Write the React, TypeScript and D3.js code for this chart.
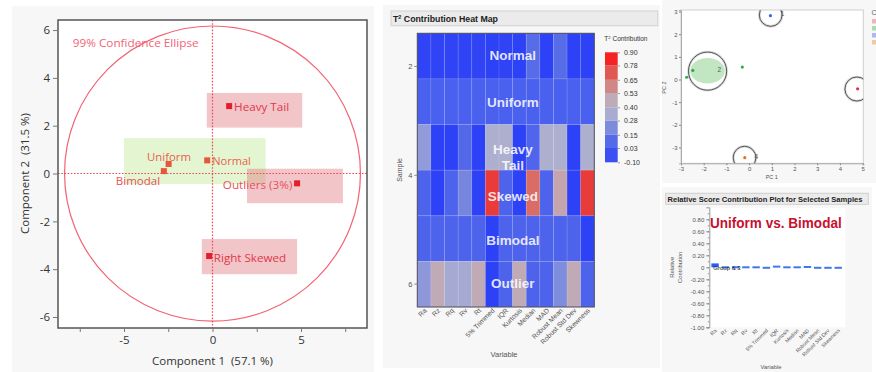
import { useEffect, useRef } from "react";
import * as d3 from "d3";

// ---------- score plot (left panel) ----------
const sampleLabels = ["Heavy Tail", "Normal", "Uniform", "Bimodal", "Outliers (3%)", "Right Skewed"];
const scoresPC1 = [0.94, -0.3, -2.48, -2.75, 4.78, -0.19];
const scoresPC2 = [2.82, 0.55, 0.4, 0.1, -0.41, -3.45];
const sampleCluster = [1, 2, 2, 2, 3, 4];

const scoreXTicks = [-7.5, -5, -2.5, 0, 2.5, 5, 7.5];
const scoreXLabels = [-5, 0, 5];
const scoreYTicks = [-6, -4, -2, 0, 2, 4, 6];

const ellipseRadiusPC1 = 8.36;
const ellipseRadiusPC2 = 6.17;

// shaded groups, in score units
const boxPC1From = [-0.32, -5.0, 1.95, -0.6];
const boxPC1To = [5.07, 3.0, 7.37, 4.78];
const boxPC2From = [1.92, -0.44, -1.24, -4.21];
const boxPC2To = [3.37, 1.48, 0.2, -2.74];
const boxKind = ["pink", "green", "pink", "pink"];

// ---------- T2 heat map (middle panel) ----------
const variables = [
  "Ra", "Rz", "Rq", "Rv", "Rt", "5% Trimmed", "IQR", "Kurtosis",
  "Median", "MAD", "Robust Mean", "Robust Std Dev", "Skewness",
];
const heatRows = ["Normal", "Uniform", "Heavy Tail", "Skewed", "Bimodal", "Outlier"];
const t2Normal = [-0.08, -0.08, -0.08, -0.08, -0.08, -0.09, -0.08, -0.09, 0.1, -0.09, 0.1, -0.09, -0.09];
const t2Uniform = [0.03, 0.03, 0.03, 0.03, 0.03, 0.03, 0.03, 0.03, 0.03, 0.03, 0.03, 0.03, 0.03];
const t2HeavyTail = [0.26, -0.09, -0.09, 0.08, -0.09, 0.36, 0.36, -0.09, 0.06, 0.36, 0.36, -0.09, 0.36];
const t2Skewed = [0.05, -0.09, 0.05, 0.2, -0.09, 0.79, 0.05, -0.09, 0.66, 0.05, 0.5, -0.09, 0.79];
const t2Bimodal = [0.05, 0.05, 0.05, 0.05, 0.05, -0.09, 0.05, 0.05, 0.05, 0.05, 0.05, 0.05, -0.09];
const t2Outlier = [0.25, 0.47, 0.33, 0.33, 0.47, -0.09, 0.05, 0.47, 0.05, 0.05, 0.22, 0.47, 0.05];
const t2Table = [t2Normal, t2Uniform, t2HeavyTail, t2Skewed, t2Bimodal, t2Outlier];

const sampleTicks = [2, 4, 6];
const legendTicks = [-0.1, 0.03, 0.15, 0.28, 0.4, 0.53, 0.65, 0.78, 0.9];
const legendColors = ["#2b3ff7", "#4a60ee", "#6074e2", "#9aa2d8", "#b6b6ca", "#c8a0a4", "#d87068", "#e84040", "#ff0808"];

// ---------- cluster plot (top right) ----------
const clusterIds = [1, 2, 3, 4];
const clusterPC1 = [0.95, -1.83, 4.75, -0.2];
const clusterPC2 = [2.85, 0.37, -0.42, -3.45];
const clusterRadius = [0.5, 0.84, 0.53, 0.5];
const pcXTicks = [-3, -2, -1, 0, 1, 2, 3, 4, 5];
const pcYTicks = [-3, -2, -1, 0, 1, 2, 3];

// ---------- relative contribution (bottom right) ----------
const contribValues = [0.065, 0.008, 0.005, 0.005, 0.01, -0.025, 0.028, 0.012, 0.006, 0.022, -0.004, -0.004, -0.02];
const contribTicks = [-1, -0.8, -0.6, -0.4, -0.2, 0, 0.2, 0.4, 0.6, 0.8];
const contribMinor = d3.range(-10, 10).map((d) => d / 10);

const SEGOE = "'Open Sans', 'Noto Sans', sans-serif";
const ARIAL = "'Liberation Sans', Arial, sans-serif";
const PANEL = "#f7f7f7";

type Sel = d3.Selection<SVGSVGElement, unknown, null, undefined>;

function drawScorePlot(svg: Sel) {
  const x = d3.scaleLinear().domain([-8.73, 8.73]).range([58, 367]);
  const y = d3.scaleLinear().domain([-6.46, 6.42]).range([328, 20]);
  const g = svg.append("g").attr("font-family", SEGOE);

  g.append("rect").attr("x", 12).attr("y", 6).attr("width", 362).attr("height", 366).attr("fill", PANEL);
  g.append("rect")
    .attr("x", x(-8.73)).attr("y", y(6.42))
    .attr("width", x(8.73) - x(-8.73)).attr("height", y(-6.46) - y(6.42))
    .attr("fill", "#fff");

  boxKind.forEach((kind, i) => {
    g.append("rect")
      .attr("x", x(boxPC1From[i]))
      .attr("y", y(boxPC2To[i]))
      .attr("width", x(boxPC1To[i]) - x(boxPC1From[i]))
      .attr("height", y(boxPC2From[i]) - y(boxPC2To[i]))
      .attr("fill", kind === "green" ? "rgb(188,232,140)" : "rgb(222,110,120)")
      .attr("fill-opacity", 0.4);
  });

  g.append("ellipse")
    .attr("cx", x(0)).attr("cy", y(0))
    .attr("rx", x(ellipseRadiusPC1) - x(0))
    .attr("ry", y(0) - y(ellipseRadiusPC2))
    .attr("fill", "none").attr("stroke", "#f26474").attr("stroke-width", 1.2);

  g.append("line")
    .attr("x1", x(0)).attr("x2", x(0)).attr("y1", y(6.42)).attr("y2", y(-6.46))
    .attr("stroke", "#ee4a5c").attr("stroke-width", 1.2).attr("stroke-dasharray", "1.6,1.6");
  g.append("line")
    .attr("x1", x(-8.73)).attr("x2", x(8.73)).attr("y1", y(0)).attr("y2", y(0))
    .attr("stroke", "#ee4a5c").attr("stroke-width", 1.2).attr("stroke-dasharray", "1.6,1.6");

  g.append("text")
    .attr("x", 72.7).attr("y", 46.5)
    .attr("font-size", 11.5).attr("fill", "#f26474")
    .attr("textLength", 126).attr("lengthAdjust", "spacingAndGlyphs")
    .text("99% Confidence Ellipse");

  const placement: Record<string, { dx: number; dy: number; anchor: string; w: number; color: string }> = {
    "Heavy Tail": { dx: 5, dy: 5, anchor: "start", w: 55, color: "#e0384a" },
    Normal: { dx: 5, dy: 4.7, anchor: "start", w: 38.7, color: "#e8604c" },
    Uniform: { dx: 0.4, dy: -3, anchor: "middle", w: 44, color: "#e8604c" },
    Bimodal: { dx: -3.7, dy: 14, anchor: "end", w: 44.3, color: "#e85060" },
    "Outliers (3%)": { dx: -4.7, dy: 5.7, anchor: "end", w: 69.6, color: "#e85060" },
    "Right Skewed": { dx: 4.7, dy: 5.7, anchor: "start", w: 72.3, color: "#e0384a" },
  };

  sampleLabels.forEach((name, i) => {
    const px = x(scoresPC1[i]);
    const py = y(scoresPC2[i]);
    g.append("rect")
      .attr("x", px - 3).attr("y", py - 3).attr("width", 6).attr("height", 6)
      .attr("fill", sampleCluster[i] === 2 ? "#e8553a" : "#e41e2a");
    const p = placement[name];
    g.append("text")
      .attr("x", px + p.dx).attr("y", py + p.dy)
      .attr("text-anchor", p.anchor)
      .attr("font-size", 11.5).attr("fill", p.color)
      .attr("textLength", p.w).attr("lengthAdjust", "spacingAndGlyphs")
      .text(name);
  });

  g.append("rect")
    .attr("x", x(-8.73)).attr("y", y(6.42))
    .attr("width", x(8.73) - x(-8.73)).attr("height", y(-6.46) - y(6.42))
    .attr("fill", "none").attr("stroke", "#555").attr("stroke-width", 1.5);

  const yAxis = g.append("g")
    .attr("transform", `translate(${x(-8.73)},0)`)
    .call(d3.axisLeft(y).tickValues(scoreYTicks).tickSize(5).tickPadding(3).tickFormat((d) => String(d)));
  const xAxis = g.append("g")
    .attr("transform", `translate(0,${y(-6.46)})`)
    .call(
      d3.axisBottom(x).tickValues(scoreXTicks).tickSize(4).tickPadding(4)
        .tickFormat((d) => (scoreXLabels.includes(d as number) ? String(d) : ""))
    );
  [yAxis, xAxis].forEach((a) => {
    a.select(".domain").remove();
    a.selectAll("line").attr("stroke", "#777");
    a.selectAll("text").attr("font-size", 11.5).attr("fill", "#333").attr("font-family", SEGOE);
  });

  g.append("text")
    .attr("x", x(0)).attr("y", 365)
    .attr("text-anchor", "middle").attr("font-size", 11.5).attr("fill", "#333")
    .style("white-space", "pre")
    .text("Component 1  (57.1 %)");
  g.append("text")
    .attr("transform", `translate(29,${y(0)}) rotate(-90)`)
    .attr("text-anchor", "middle").attr("font-size", 11.5).attr("fill", "#333")
    .style("white-space", "pre")
    .text("Component 2  (31.5 %)");
}

function drawHeatMap(svg: Sel) {
  const g = svg.append("g").attr("font-family", ARIAL);
  const x = d3.scaleBand().domain(variables).range([417.3, 594.3]);
  const y = d3.scaleBand().domain(heatRows).range([33.3, 307]);
  const sampleAxis = d3.scaleLinear().domain([1.4, 6.43]).range([33.3, 307]);
  const color = d3.scaleLinear<string>().domain(legendTicks).range(legendColors).interpolate(d3.interpolateRgb);

  g.append("rect").attr("x", 383).attr("y", 5).attr("width", 277).attr("height", 363).attr("fill", PANEL);

  g.append("rect")
    .attr("x", 391).attr("y", 11).attr("width", 266.7).attr("height", 14.7)
    .attr("fill", "#ebebeb").attr("stroke", "#d2d2d2");
  const title = g.append("text")
    .attr("x", 393).attr("y", 22).attr("font-size", 9).attr("font-weight", "bold").attr("fill", "#222")
    .attr("textLength", 105).attr("lengthAdjust", "spacingAndGlyphs");
  title.append("tspan").text("T");
  title.append("tspan").attr("font-size", 5.5).attr("dy", -3.5).text("2");
  title.append("tspan").attr("dy", 3.5).text(" Contribution Heat Map");

  heatRows.forEach((row, r) => {
    variables.forEach((v, c) => {
      g.append("rect")
        .attr("x", x(v)!).attr("y", y(row)!)
        .attr("width", x.bandwidth()).attr("height", y.bandwidth())
        .attr("fill", color(t2Table[r][c]))
        .attr("stroke", "rgba(255,255,255,0.12)").attr("stroke-width", 0.8);
    });
  });

  const nudge: Record<string, number> = { Normal: 4, Uniform: 5, "Heavy Tail": 6.6, Skewed: 8, Bimodal: 6.5, Outlier: 4 };
  heatRows.forEach((row) => {
    const cx = (x.range()[0] + x.range()[1]) / 2 + 7;
    const cy = y(row)! + y.bandwidth() / 2 + nudge[row];
    const lines = row === "Heavy Tail" ? ["Heavy", "Tail"] : [row];
    lines.forEach((line, i) => {
      g.append("text")
        .attr("x", cx).attr("y", cy + i * 16)
        .attr("text-anchor", "middle").attr("font-size", 13.5).attr("font-weight", "bold")
        .attr("fill", "#fff").attr("fill-opacity", 0.86)
        .text(line);
    });
  });

  g.append("rect")
    .attr("x", 417.3).attr("y", 33.3).attr("width", 177).attr("height", 273.7)
    .attr("fill", "none").attr("stroke", "#4a4a5a").attr("stroke-width", 1);

  const yAxis = g.append("g")
    .attr("transform", "translate(417.3,0)")
    .call(d3.axisLeft(sampleAxis).tickValues(sampleTicks).tickSize(3).tickPadding(2).tickFormat((d) => String(d)));
  yAxis.select(".domain").remove();
  yAxis.selectAll("line").attr("stroke", "#888");
  yAxis.selectAll("text").attr("font-size", 7.5).attr("fill", "#555").attr("font-family", ARIAL);

  variables.forEach((v) => {
    g.append("text")
      .attr("transform", `translate(${x(v)! + x.bandwidth() / 2 + 3},${311}) rotate(-45)`)
      .attr("text-anchor", "end").attr("font-size", 6.8).attr("fill", "#555")
      .text(v);
  });

  g.append("text").attr("x", 504).attr("y", 357).attr("text-anchor", "middle")
    .attr("font-size", 7.5).attr("fill", "#555").text("Variable");
  g.append("text").attr("transform", "translate(402,170) rotate(-90)").attr("text-anchor", "middle")
    .attr("font-size", 7).attr("fill", "#555").text("Sample");

  // legend
  const ly = d3.scaleLinear().domain([-0.1, 0.9]).range([162.3, 52.3]);
  const lt = g.append("text").attr("x", 604.3).attr("y", 41).attr("font-size", 6.5).attr("fill", "#333");
  lt.append("tspan").text("T");
  lt.append("tspan").attr("font-size", 4.2).attr("dy", -2.5).text("2");
  lt.append("tspan").attr("dy", 2.5).text(" Contribution");

  d3.pairs(legendTicks).forEach(([lo, hi]) => {
    g.append("rect")
      .attr("x", 605).attr("y", ly(hi)).attr("width", 12.7).attr("height", ly(lo) - ly(hi))
      .attr("fill", color((lo + hi) / 2));
  });
  const legendAxis = g.append("g")
    .attr("transform", "translate(618,0)")
    .call(d3.axisRight(ly).tickValues(legendTicks).tickSize(2).tickPadding(4).tickFormat((d) => d3.format(".2f")(d as number).replace("−", "-")));
  legendAxis.select(".domain").remove();
  legendAxis.selectAll("line").attr("stroke", "#999");
  legendAxis.selectAll("text").attr("font-size", 7).attr("fill", "#333").attr("font-family", ARIAL);
}

function drawClusterPlot(svg: Sel) {
  const g = svg.append("g").attr("font-family", ARIAL);
  const x = d3.scaleLinear().domain([-3, 5.03]).range([681, 863.3]);
  const y = d3.scaleLinear().domain([-3.7, 3.07]).range([163.3, 10]);
  const clusterColor = d3.scaleOrdinal<number, string>().domain(clusterIds).range(["#3d66e0", "#2fae42", "#e0304a", "#e87020"]);
  const legendSwatch = ["#f2b4bc", "#aadcaa", "#aabaf0", "#f2caa2"];

  g.append("rect").attr("x", 662).attr("y", 0).attr("width", 214).attr("height", 183).attr("fill", PANEL);
  g.append("rect")
    .attr("x", x(-3)).attr("y", y(3.07)).attr("width", x(5.03) - x(-3)).attr("height", y(-3.7) - y(3.07))
    .attr("fill", "#fff").attr("stroke", "#cfcfcf");

  g.append("clipPath").attr("id", "pc-clip")
    .append("rect").attr("x", x(-3)).attr("y", y(3.07)).attr("width", x(5.03) - x(-3)).attr("height", y(-3.7) - y(3.07));
  const plot = g.append("g").attr("clip-path", "url(#pc-clip)");

  // green density region for cluster 2
  plot.append("ellipse")
    .attr("cx", x(clusterPC1[1])).attr("cy", y(clusterPC2[1] + 0.02))
    .attr("rx", x(0.76) - x(0)).attr("ry", x(0.56) - x(0))
    .attr("fill", "#8fd08f").attr("fill-opacity", 0.55);

  clusterIds.forEach((id, i) => {
    plot.append("circle")
      .attr("cx", x(clusterPC1[i])).attr("cy", y(clusterPC2[i]))
      .attr("r", x(clusterRadius[i]) - x(0))
      .attr("fill", "none").attr("stroke", "#d8d8d8").attr("stroke-width", 2.6);
    plot.append("circle")
      .attr("cx", x(clusterPC1[i])).attr("cy", y(clusterPC2[i]))
      .attr("r", x(clusterRadius[i]) - x(0))
      .attr("fill", "none").attr("stroke", "#555").attr("stroke-width", 1);
    plot.append("text")
      .attr("x", x(clusterPC1[i]) + 10).attr("y", y(clusterPC2[i]) + 1)
      .attr("font-size", 6.5).attr("fill", "#555").text(String(id));
  });

  scoresPC1.forEach((v, i) => {
    plot.append("circle")
      .attr("cx", x(v)).attr("cy", y(scoresPC2[i])).attr("r", 1.6)
      .attr("fill", clusterColor(sampleCluster[i]));
  });

  const xAxis = g.append("g").attr("transform", `translate(0,${y(-3.7)})`)
    .call(d3.axisBottom(x).tickValues(pcXTicks).tickSize(2).tickPadding(1.5).tickFormat((d) => String(d)));
  const yAxis = g.append("g").attr("transform", `translate(${x(-3)},0)`)
    .call(d3.axisLeft(y).tickValues(pcYTicks).tickSize(2).tickPadding(1.5).tickFormat((d) => String(d)));
  [xAxis, yAxis].forEach((a) => {
    a.select(".domain").attr("stroke", "#aaa");
    a.selectAll("line").attr("stroke", "#888");
    a.selectAll("text").attr("font-size", 6).attr("fill", "#555").attr("font-family", ARIAL);
  });

  g.append("text").attr("x", x(1)).attr("y", 179).attr("text-anchor", "middle")
    .attr("font-size", 5.5).attr("fill", "#555").text("PC 1");
  g.append("text").attr("transform", `translate(666,${y(0) + 8}) rotate(-90)`).attr("text-anchor", "middle")
    .attr("font-size", 5.5).attr("fill", "#555").text("PC 2");

  g.append("text").attr("x", 871.5).attr("y", 15).attr("font-size", 7).attr("fill", "#666").text("C");
  legendSwatch.forEach((c, i) => {
    g.append("rect").attr("x", 872).attr("y", 19 + i * 7).attr("width", 5).attr("height", 4.5).attr("fill", c);
  });
}

function drawContribution(svg: Sel) {
  const g = svg.append("g").attr("font-family", ARIAL);
  const x = d3.scaleBand().domain(variables).range([708.5, 844.8]).padding(0.28);
  const y = d3.scaleLinear().domain([-1, 1]).range([327.3, 207.3]);

  g.append("rect").attr("x", 662).attr("y", 187).attr("width", 210).attr("height", 185).attr("fill", PANEL);
  g.append("rect")
    .attr("x", 665.7).attr("y", 193.3).attr("width", 202.6).attr("height", 11)
    .attr("fill", "#ebebeb").attr("stroke", "#cfcfcf");
  g.append("text")
    .attr("x", 667.5).attr("y", 202).attr("font-size", 7.5).attr("font-weight", "bold").attr("fill", "#222")
    .attr("textLength", 195).attr("lengthAdjust", "spacingAndGlyphs")
    .text("Relative Score Contribution Plot for Selected Samples");

  g.append("rect")
    .attr("x", 709.3).attr("y", 208.3).attr("width", 136).attr("height", y(-1) - 208.3)
    .attr("fill", "#fff");

  g.append("text")
    .attr("x", 710).attr("y", 228.3).attr("font-size", 14.5).attr("font-weight", "bold").attr("fill", "#c8102e")
    .attr("textLength", 131.7).attr("lengthAdjust", "spacingAndGlyphs")
    .text("Uniform vs. Bimodal");

  variables.forEach((v, i) => {
    const val = contribValues[i];
    const top = Math.min(y(val), y(0) - 1);
    const h = Math.max(Math.abs(y(val) - y(0)), 2);
    g.append("rect")
      .attr("x", x(v)!).attr("y", val >= 0 ? top : y(0) - 0.5)
      .attr("width", x.bandwidth()).attr("height", h)
      .attr("fill", i === 0 ? "#2a5ef2" : "#3f78ea");
  });

  g.append("text").attr("x", 713.3).attr("y", 269.5).attr("font-size", 6).attr("fill", "#111")
    .text("Group & 3");

  const minor = g.append("g").attr("transform", "translate(709.3,0)")
    .call(d3.axisLeft(y).tickValues(contribMinor).tickSize(1.5).tickFormat(() => ""));
  minor.select(".domain").remove();
  minor.selectAll("line").attr("stroke", "#999");
  const yAxis = g.append("g").attr("transform", "translate(709.3,0)")
    .call(
      d3.axisLeft(y).tickValues(contribTicks).tickSize(3).tickPadding(2)
        .tickFormat((d) => ((d as number) === 0 ? "0" : `${(d as number) < 0 ? "-" : ""}${Math.abs(d as number).toFixed(2)}`))
    );
  yAxis.select(".domain").attr("stroke", "#999");
  yAxis.selectAll("line").attr("stroke", "#888");
  yAxis.selectAll("text").attr("font-size", 6).attr("fill", "#555").attr("font-family", ARIAL);

  variables.forEach((v) => {
    g.append("text")
      .attr("transform", `translate(${x(v)! + x.bandwidth() / 2 + 2},${331}) rotate(-45)`)
      .attr("text-anchor", "end").attr("font-size", 5.2).attr("fill", "#555")
      .text(v);
  });

  g.append("text").attr("x", 771).attr("y", 369).attr("text-anchor", "middle")
    .attr("font-size", 5.8).attr("fill", "#555").text("Variable");
  g.append("text").attr("transform", `translate(674,${y(0)}) rotate(-90)`).attr("text-anchor", "middle")
    .attr("font-size", 5.8).attr("fill", "#555").text("Relative");
  g.append("text").attr("transform", `translate(682,${y(0)}) rotate(-90)`).attr("text-anchor", "middle")
    .attr("font-size", 5.8).attr("fill", "#555").text("Contribution");
}

export default function App() {
  const svgRef = useRef<SVGSVGElement>(null);

  useEffect(() => {
    if (!svgRef.current) return;
    const svg = d3.select(svgRef.current);
    svg.selectAll("*").remove();
    drawScorePlot(svg);
    drawHeatMap(svg);
    drawClusterPlot(svg);
    drawContribution(svg);
  }, []);

  return (
    <svg
      ref={svgRef}
      width={876}
      height={372}
      style={{ position: "absolute", left: 0, top: 0, background: "#fff", display: "block" }}
      role="img"
      aria-label="PCA score plot, T2 contribution heat map, cluster plot and relative contribution plot"
    />
  );
}
